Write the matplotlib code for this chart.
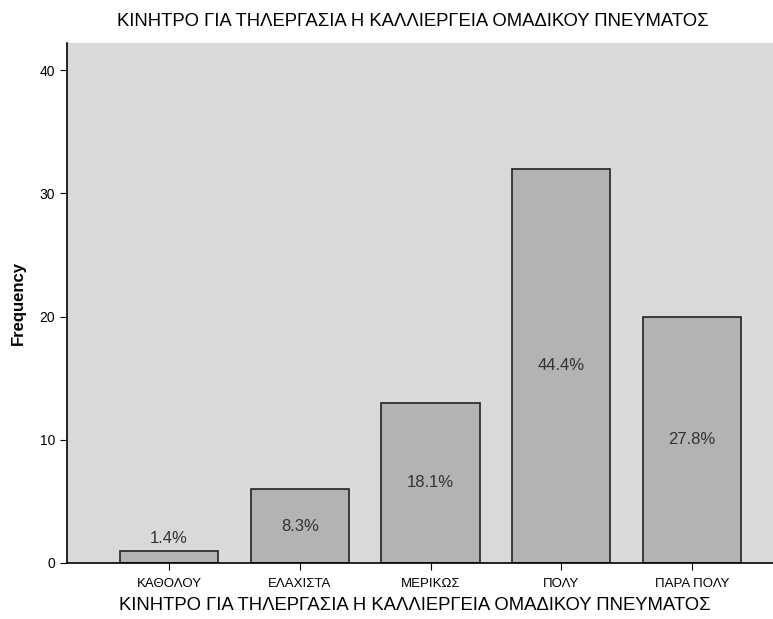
import matplotlib
matplotlib.use("Agg")
import matplotlib.pyplot as plt

categories = ["ΚΑΘΟΛΟΥ", "ΕΛΑΧΙΣΤΑ", "ΜΕΡΙΚΩΣ", "ΠΟΛΥ", "ΠΑΡΑ ΠΟΛΥ"]
counts = [1, 6, 13, 32, 20]
percent_labels = ["1.4%", "8.3%", "18.1%", "44.4%", "27.8%"]
yticks = [0, 10, 20, 30, 40]
title = "ΚΙΝΗΤΡΟ ΓΙΑ ΤΗΛΕΡΓΑΣΙΑ Η ΚΑΛΛΙΕΡΓΕΙΑ ΟΜΑΔΙΚΟΥ ΠΝΕΥΜΑΤΟΣ"

plt.rcParams['font.family'] = ['Liberation Sans', 'DejaVu Sans']

fig = plt.figure(figsize=(7.73, 6.19), dpi=100)
ax = fig.add_axes([0.0867, 0.0905, 0.9405, 0.84])
ax.set_facecolor('#d9d9d9')

x = list(range(len(categories)))
bars = ax.bar(x, counts, width=0.75, color='#b3b3b3', edgecolor='#222222', linewidth=1.2, zorder=2)

for b, lab in zip(bars, percent_labels):
    h = b.get_height()
    if h < 3:
        ax.text(b.get_x() + b.get_width() / 2, h + 0.4, lab, ha='center', va='bottom',
                fontsize=12, color='#333333', zorder=3)
    else:
        ax.text(b.get_x() + b.get_width() / 2, h / 2, lab, ha='center', va='center',
                fontsize=12, color='#333333', zorder=3)

ax.set_xlim(-0.78, 4.78)
ax.set_ylim(0, 42.2)
ax.set_yticks(yticks)
ax.set_xticks(x)
ax.set_xticklabels(categories, fontsize=9.5)
ax.tick_params(axis='y', labelsize=10, length=5)
ax.tick_params(axis='x', length=5, pad=6)
for s in ['top', 'right']:
    ax.spines[s].set_visible(False)
ax.spines['left'].set_linewidth(1.2)
ax.spines['bottom'].set_linewidth(1.2)

ax.set_ylabel("Frequency", fontsize=12, fontweight='bold', labelpad=10)
fig.text(415 / 773, 1 - 606 / 619, title, fontsize=13.3, ha='center', va='center')
fig.text(117 / 773, 1 - 22 / 619, title, fontsize=13.3, ha='left', va='center')

fig.savefig("out.png", dpi=100)
